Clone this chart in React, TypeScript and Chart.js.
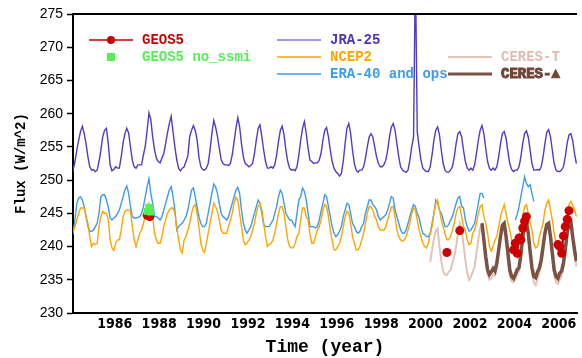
import React, { useEffect, useRef } from "react";
import { Chart, registerables } from "chart.js";

Chart.register(...registerables);

// ---------- data ----------
const X_TICKS = [1986, 1988, 1990, 1992, 1994, 1996, 1998, 2000, 2002, 2004, 2006];
const Y_TICKS = [230, 235, 240, 245, 250, 255, 260, 265, 270, 275];

// monthly values, Jan 1984 onward
const JRA25 = [
  252.0, 251.5, 252.8, 254.5, 256.0, 257.3, 258.1, 257.0, 255.5, 253.5, 252.0, 251.5, // 1984
  251.6, 251.3, 251.5, 252.8, 254.5, 256.5, 257.5, 257.8, 255.5, 252.3, 251.4, 251.6, // 1985
  252.0, 251.8, 251.8, 253.5, 255.6, 257.0, 257.8, 257.1, 255.0, 253.0, 252.0, 251.8, // 1986
  252.3, 252.3, 252.3, 253.8, 255.1, 257.5, 260.1, 259.1, 256.5, 254.6, 253.3, 252.8, // 1987
  252.6, 253.3, 254.0, 255.5, 257.1, 258.5, 259.6, 257.3, 255.0, 253.1, 251.8, 251.4, // 1988
  251.8, 252.0, 252.8, 253.6, 256.5, 257.5, 258.2, 257.5, 256.1, 253.5, 252.0, 251.6, // 1989
  251.5, 251.8, 252.5, 254.5, 257.0, 259.0, 258.0, 256.6, 254.8, 253.1, 252.5, 252.3, // 1990
  252.3, 252.2, 252.5, 253.8, 255.8, 257.8, 259.4, 258.0, 255.5, 253.5, 252.5, 252.3, // 1991
  252.0, 252.2, 252.5, 254.0, 256.0, 257.8, 258.3, 256.5, 254.5, 252.8, 251.8, 251.8, // 1992
  252.0, 251.8, 252.3, 253.8, 255.8, 257.5, 258.1, 256.8, 254.5, 252.8, 251.8, 251.5, // 1993
  251.6, 251.4, 252.0, 253.8, 256.0, 257.8, 258.8, 257.0, 254.8, 253.0, 252.8, 252.5, // 1994
  252.6, 252.6, 253.0, 254.0, 256.0, 257.5, 257.9, 256.5, 254.5, 252.8, 251.8, 251.3, // 1995
  251.0, 250.6, 251.0, 252.8, 255.5, 257.8, 258.5, 257.0, 254.5, 252.5, 251.5, 251.2, // 1996
  251.5, 251.5, 252.0, 253.3, 255.0, 256.5, 257.0, 256.5, 255.0, 253.5, 252.5, 252.0, // 1997
  252.0, 252.3, 253.0, 254.5, 256.5, 258.0, 258.5, 257.5, 255.5, 253.5, 252.0, 251.5, // 1998
  251.3, 251.2, 251.5, 253.0, 255.0, 256.5, 282.0, 257.3, 255.0, 253.0, 251.8, 251.5, // 1999
  251.3, 251.3, 252.0, 253.8, 256.0, 257.5, 258.0, 256.8, 254.5, 252.5, 251.5, 251.2, // 2000
  251.2, 251.5, 252.0, 253.5, 255.5, 257.0, 257.3, 256.5, 254.5, 252.8, 251.8, 251.5, // 2001
  251.8, 251.5, 252.3, 254.0, 256.0, 257.5, 258.2, 257.0, 254.8, 252.8, 251.8, 251.5, // 2002
  251.8, 251.5, 252.0, 253.5, 255.5, 257.0, 257.3, 256.3, 254.3, 252.5, 251.6, 251.3, // 2003
  251.5, 251.5, 252.0, 253.5, 255.5, 257.0, 257.4, 256.5, 254.5, 252.5, 251.5, 251.5, // 2004
  251.6, 251.5, 252.0, 253.5, 255.5, 257.2, 257.6, 256.5, 254.5, 252.5, 251.5, 251.3, // 2005
  251.3, 251.5, 252.0, 253.5, 255.5, 256.8, 257.0, 256.0, 254.0, 252.5, // 2006
];

// monthly values, Jan 1984 onward
const NCEP2 = [
  241.5, 242.3, 243.0, 244.0, 245.0, 245.8, 245.8, 245.8, 244.5, 243.5, 241.5, 240.0, // 1984
  240.5, 240.3, 240.5, 243.0, 244.5, 245.3, 245.0, 245.0, 244.0, 241.0, 239.8, 239.4, // 1985
  240.5, 241.0, 241.0, 242.5, 244.5, 245.3, 245.5, 245.5, 245.3, 243.0, 241.0, 240.0, // 1986
  241.0, 242.0, 242.5, 243.5, 244.5, 245.5, 246.5, 246.0, 244.5, 242.0, 241.0, 240.5, // 1987
  240.5, 241.5, 243.0, 244.0, 245.0, 245.5, 245.8, 245.8, 245.0, 243.0, 241.0, 239.5, // 1988
  239.0, 241.0, 241.5, 242.5, 243.5, 245.0, 246.0, 246.3, 245.0, 243.0, 240.5, 239.5, // 1989
  239.1, 240.5, 242.0, 243.5, 245.0, 246.5, 246.0, 245.3, 244.0, 242.5, 242.0, 242.0, // 1990
  242.0, 243.0, 244.0, 245.0, 246.5, 247.4, 247.0, 245.0, 243.0, 241.0, 240.3, 240.5, // 1991
  241.0, 241.5, 242.5, 243.5, 245.0, 246.0, 246.5, 245.5, 243.5, 241.5, 240.0, 240.3, // 1992
  240.5, 241.0, 242.0, 243.5, 245.0, 246.0, 246.0, 245.0, 243.0, 241.0, 240.0, 239.8, // 1993
  239.8, 240.5, 241.5, 242.0, 244.0, 245.8, 245.8, 244.5, 244.0, 242.0, 240.5, 240.5, // 1994
  241.5, 242.5, 243.0, 244.0, 245.5, 246.3, 246.0, 244.5, 242.5, 241.0, 239.5, 239.5, // 1995
  240.0, 240.5, 241.5, 243.0, 244.5, 245.3, 245.0, 243.5, 241.5, 240.5, 239.5, 239.5, // 1996
  240.0, 241.0, 242.0, 243.5, 245.0, 246.0, 246.0, 245.5, 244.5, 244.0, 243.0, 242.5, // 1997
  242.5, 242.5, 243.0, 244.0, 245.0, 246.0, 246.0, 244.5, 242.5, 241.5, 241.0, 240.8, // 1998
  241.0, 241.5, 242.5, 243.5, 245.0, 245.8, 245.5, 244.0, 242.5, 241.5, 240.5, 240.0, // 1999
  239.8, 240.5, 242.0, 243.0, 245.0, 246.5, 247.0, 245.5, 244.0, 243.0, 242.0, 241.0, // 2000
  241.0, 241.5, 242.5, 243.5, 245.0, 245.8, 246.0, 244.5, 243.0, 242.5, 241.0, 240.3, // 2001
  240.5, 242.0, 242.5, 243.5, 245.0, 246.0, 246.3, 244.5, 243.6, 242.0, 240.0, 239.3, // 2002
  240.0, 241.0, 241.5, 243.0, 244.5, 245.5, 246.3, 245.0, 243.5, 242.5, 241.0, 239.3, // 2003
  239.5, 240.5, 241.5, 243.0, 244.5, 246.0, 246.3, 245.0, 243.5, 242.5, 240.5, 239.8, // 2004
  240.0, 241.5, 242.5, 243.5, 245.5, 246.5, 247.0, 245.5, 244.0, 242.0, 240.5, 239.8, // 2005
  239.8, 240.5, 242.0, 243.5, 245.0, 246.3, 246.8, 246.3, 245.5, 244.5, // 2006
];

// ERA-40, monthly, Jan 1984 - Aug 2002
const ERA40 = [
  241.5, 242.0, 244.0, 246.5, 247.3, 247.5, 247.0, 246.0, 244.5, 243.0, 242.3, 242.3, // 1984
  242.5, 243.0, 243.5, 245.0, 247.5, 247.8, 247.8, 247.0, 246.0, 244.3, 244.0, 244.3, // 1985
  244.5, 245.0, 245.5, 246.5, 247.5, 248.5, 249.1, 248.0, 246.0, 244.5, 244.3, 244.3, // 1986
  244.4, 244.5, 245.0, 246.0, 247.5, 249.0, 250.2, 248.0, 246.5, 244.5, 244.5, 244.3, // 1987
  244.0, 244.5, 245.5, 246.5, 247.5, 248.5, 249.0, 247.5, 245.5, 242.5, 243.0, 243.3, // 1988
  243.5, 244.0, 244.5, 245.5, 247.0, 248.5, 248.8, 247.5, 246.0, 244.5, 243.5, 243.0, // 1989
  243.0, 243.5, 245.0, 246.5, 248.0, 249.4, 249.0, 248.0, 246.5, 245.0, 244.5, 244.3, // 1990
  244.0, 244.5, 245.5, 246.5, 247.5, 248.5, 248.9, 248.0, 245.5, 243.5, 242.5, 242.0, // 1991
  242.5, 243.0, 244.0, 245.0, 246.0, 247.0, 246.5, 245.0, 243.3, 243.0, 243.0, 243.0, // 1992
  243.5, 244.0, 245.0, 246.0, 247.5, 248.5, 248.0, 246.5, 245.0, 244.5, 244.0, 244.0, // 1993
  243.5, 243.0, 245.0, 247.0, 247.5, 248.8, 248.3, 247.0, 245.0, 243.0, 243.0, 243.0, // 1994
  242.8, 243.0, 244.0, 245.3, 246.5, 247.8, 247.5, 246.0, 244.5, 243.0, 242.0, 241.5, // 1995
  241.8, 242.3, 243.0, 244.5, 245.5, 246.5, 246.3, 245.0, 243.5, 243.0, 242.3, 242.0, // 1996
  242.3, 243.0, 243.5, 245.0, 246.0, 247.0, 247.0, 246.3, 246.0, 245.5, 244.5, 244.0, // 1997
  244.3, 244.5, 244.8, 245.5, 246.5, 247.5, 247.3, 245.5, 244.5, 243.5, 242.5, 242.0, // 1998
  242.0, 242.5, 243.5, 244.5, 245.5, 246.3, 246.0, 245.0, 244.3, 243.0, 242.0, 241.8, // 1999
  241.5, 241.5, 242.0, 243.5, 245.0, 247.0, 246.5, 245.5, 245.0, 244.0, 243.0, 243.0, // 2000
  243.3, 244.0, 244.5, 245.5, 246.5, 247.3, 247.5, 246.0, 245.8, 244.0, 243.0, 242.3, // 2001
  242.5, 243.0, 243.5, 245.0, 246.5, 248.0, 248.0, 247.3, // 2002
];

// ECMWF ops, monthly, Jan 2004 - Nov 2004
const ERA_OPS = [244.0, 244.8, 246.0, 247.5, 249.0, 250.5, 249.5, 249.0, 249.3, 248.0, 246.8];

// CERES-T, monthly, Mar 2000 onward
const CERES_T = [
  237.7, 239.5, 241.2, 242.3, 242.7, 240.0, 237.8, 236.3, 235.8, 235.7, // 2000
  236.2, 236.5, 237.5, 238.5, 240.0, 242.0, 243.5, 242.5, 240.3, 238.0, 236.0, 235.0, // 2001
  235.5, 236.2, 237.0, 239.0, 241.0, 242.8, 243.3, 241.0, 238.0, 235.8, 235.0, 235.2, // 2002
  235.8, 235.6, 236.8, 239.0, 241.2, 243.0, 243.3, 241.2, 238.5, 235.8, 234.8, 234.6, // 2003
  235.0, 235.8, 236.3, 238.5, 241.0, 243.0, 243.6, 241.5, 238.8, 236.0, 234.6, 234.2, // 2004
  235.2, 236.0, 237.2, 239.3, 241.6, 243.0, 243.3, 241.0, 238.5, 235.8, 234.6, 234.4, // 2005
  235.0, 235.6, 236.8, 239.0, 241.5, 243.2, 243.6, 241.0, 238.8, 237.0, // 2006
];

// CERES-A, monthly, Jul 2002 onward
const CERES_A = [
  243.5, 241.0, 238.5, 236.5, 235.8, 236.2, // 2002
  236.7, 236.3, 237.5, 239.5, 241.5, 243.2, 243.5, 241.5, 239.0, 236.5, 235.5, 235.2, // 2003
  235.8, 236.5, 236.8, 238.8, 241.3, 243.3, 243.8, 242.0, 239.3, 236.8, 235.5, 235.3, // 2004
  236.2, 236.8, 238.0, 240.0, 242.0, 243.3, 243.5, 241.5, 239.0, 236.5, 235.5, 235.2, // 2005
  236.0, 236.3, 237.5, 239.5, 242.0, 243.5, 243.8, 241.5, 239.5, 237.8, // 2006
];

// GEOS5 experiments (null = break between runs)
const GEOS5_TIME = [1987.46, 1987.58, 1988.0, 2000.96, 2001.2, 2001.54, 2002.0,
  2003.96, 2004.04, 2004.13, 2004.21, 2004.29, 2004.38, 2004.46, 2004.54, 2005.0,
  2005.96, 2006.04, 2006.13, 2006.21, 2006.29, 2006.38, 2006.46];
const GEOS5_FLUX = [244.7, 244.5, null, 239.1, null, 242.4, null,
  239.5, 240.5, 239.0, 241.3, 241.0, 242.8, 243.8, 244.5, null,
  240.3, 240.0, 239.0, 241.6, 243.0, 244.1, 245.4];

const NOSSMI_TIME = [1987.46, 1987.54, 1987.62];
const NOSSMI_FLUX = [245.3, 245.9, 245.2];

// ---------- helpers ----------
function monthly(year: number, month: number, vals: number[]) {
  return vals.map((v, i) => ({ x: year + (month - 1 + i + 0.5) / 12, y: v }));
}
function pairs(xs: number[], ys: (number | null)[]) {
  return xs.map((x, i) => ({ x, y: ys[i] }));
}

const MONO = '"Liberation Mono", "DejaVu Sans Mono", monospace';

// legend layout: dataset index, sample start x, row y
const LEGEND_LAYOUT = [
  { ds: 0, x: 89, y: 40 },
  { ds: 1, x: 89, y: 57 },
  { ds: 2, x: 277, y: 40 },
  { ds: 3, x: 277, y: 57 },
  { ds: 4, x: 277, y: 74 },
  { ds: 5, x: 448, y: 57 },
  { ds: 6, x: 448, y: 74 },
];

const legendPlugin = {
  id: "customLegend",
  beforeDatasetsDraw(chart: any) {
    const ctx = chart.ctx;
    ctx.save();
    ctx.font = `bold 14px ${MONO}`;
    ctx.textBaseline = "middle";
    LEGEND_LAYOUT.forEach((item) => {
      const ds = chart.data.datasets[item.ds];
      const len = 44;
      if (ds.showLine !== false) {
        ctx.strokeStyle = ds.legendLineColor || ds.borderColor;
        ctx.lineWidth = Math.min(ds.borderWidth, 3);
        ctx.beginPath();
        ctx.moveTo(item.x, item.y);
        ctx.lineTo(item.x + len, item.y);
        ctx.stroke();
      }
      if (ds.pointRadius > 0) {
        ctx.fillStyle = ds.pointBackgroundColor;
        const cx = item.x + len / 2;
        if (ds.pointStyle === "rect") {
          ctx.fillRect(cx - 4, item.y - 4, 8, 8);
        } else {
          ctx.beginPath();
          ctx.arc(cx, item.y, 4, 0, Math.PI * 2);
          ctx.fill();
        }
      }
      ctx.fillStyle = ds.legendTextColor || ds.borderColor;
      const tx = item.x + len + 9;
      ctx.fillText(ds.label, tx, item.y);
      if (ds.legendHeavy) {
        ctx.strokeStyle = ds.legendTextColor;
        ctx.lineWidth = 1;
        ctx.strokeText(ds.label, tx, item.y);
      }
    });
    ctx.restore();
  },
  afterDraw(chart: any) {
    const { ctx, chartArea } = chart;
    ctx.save();
    ctx.strokeStyle = "#000";
    ctx.lineWidth = 2;
    ctx.beginPath();
    ctx.moveTo(chartArea.left - 1, chartArea.top);
    ctx.lineTo(chartArea.right, chartArea.top);
    ctx.stroke();
    ctx.restore();
  },
};

export default function App() {
  const ref = useRef<HTMLCanvasElement | null>(null);

  useEffect(() => {
    if (!ref.current) return;
    const eraData = [
      ...monthly(1984, 1, ERA40),
      { x: 2003.3, y: null },
      ...monthly(2004, 1, ERA_OPS),
    ];
    const lineBase = { pointRadius: 0, tension: 0, fill: false };
    const chart = new Chart(ref.current, {
      type: "line",
      data: {
        datasets: [
          {
            label: "GEOS5",
            data: pairs(GEOS5_TIME, GEOS5_FLUX),
            borderColor: "#CC0000",
            legendLineColor: "#D84040",
            borderWidth: 2,
            pointRadius: 4.5,
            pointHoverRadius: 4.5,
            pointBackgroundColor: "#CC0000",
            pointBorderWidth: 0,
            spanGaps: false,
            order: 1,
          } as any,
          {
            label: "GEOS5 no_ssmi",
            data: pairs(NOSSMI_TIME, NOSSMI_FLUX),
            borderColor: "#55EE55",
            showLine: false,
            pointStyle: "rect",
            pointRadius: 5,
            pointBackgroundColor: "#55EE55",
            pointBorderWidth: 0,
            order: 0,
          } as any,
          {
            ...lineBase,
            label: "JRA-25",
            data: monthly(1984, 1, JRA25),
            borderColor: "#4F3CC9",
            legendLineColor: "#8070DC",
            legendTextColor: "#4A36C0",
            borderWidth: 1.4,
            order: 6,
          } as any,
          {
            ...lineBase,
            label: "NCEP2",
            data: monthly(1984, 1, NCEP2),
            borderColor: "#FFA500",
            borderWidth: 1.4,
            order: 4,
          } as any,
          {
            ...lineBase,
            label: "ERA-40 and ops",
            data: eraData,
            borderColor: "#3D9BF0",
            borderWidth: 1.4,
            spanGaps: false,
            order: 5,
          } as any,
          {
            ...lineBase,
            label: "CERES-T",
            data: monthly(2000, 3, CERES_T),
            borderColor: "#E3C2B8",
            legendTextColor: "#E0BCB0",
            borderWidth: 2,
            order: 3,
          } as any,
          {
            ...lineBase,
            label: "CERES-▲",
            data: monthly(2002, 7, CERES_A),
            borderColor: "#7A5244",
            legendTextColor: "#6E4536",
            legendHeavy: true,
            borderWidth: 3.5,
            order: 2,
          } as any,
        ],
      },
      options: {
        animation: false,
        responsive: false,
        devicePixelRatio: 1,
        layout: { padding: { top: 14, right: 0, left: 0, bottom: 0 } },
        plugins: { legend: { display: false }, tooltip: { enabled: false } },
        events: [],
        scales: {
          x: {
            type: "linear",
            min: 1984.12,
            max: 2006.82,
            afterBuildTicks: (s: any) => {
              s.ticks = X_TICKS.map((v) => ({ value: v }));
            },
            afterFit: (s: any) => {
              s.height = 45;
            },
            ticks: {
              color: "#000",
              padding: 3,
              maxRotation: 0,
              autoSkip: false,
              font: { family: '"Liberation Sans Narrow", "DejaVu Sans Condensed", sans-serif', size: 14, weight: "bold" },
              callback: (v: any) => String(v),
            },
            grid: { drawOnChartArea: false, drawTicks: false },
            border: { display: true, color: "#000", width: 2 },
            title: {
              display: true,
              text: "Time (year)",
              color: "#000",
              font: { family: MONO, size: 18, weight: "bold" },
              padding: { top: 0, bottom: 0 },
            },
          },
          y: {
            min: 230,
            max: 275,
            afterBuildTicks: (s: any) => {
              s.ticks = Y_TICKS.map((v) => ({ value: v }));
            },
            afterFit: (s: any) => {
              s.width = 73;
            },
            ticks: {
              color: "#000",
              padding: 4,
              font: { family: '"Liberation Sans", Arial, sans-serif', size: 14 },
            },
            grid: { drawOnChartArea: false, drawTicks: true, tickLength: 6, tickColor: "#000", tickWidth: 1.5 },
            border: { display: true, color: "#000", width: 2 },
            title: {
              display: true,
              text: "Flux (W/m^2)",
              color: "#000",
              font: { family: MONO, size: 14, weight: "bold" },
              padding: { top: 13, bottom: 0 },
            },
          },
        },
      } as any,
      plugins: [legendPlugin],
    });
    return () => chart.destroy();
  }, []);

  return (
    <div style={{ position: "fixed", left: 0, top: 0, width: 582, height: 358, background: "#fff" }}>
      <canvas ref={ref} width={582} height={358} style={{ width: 582, height: 358, display: "block" }} />
    </div>
  );
}
